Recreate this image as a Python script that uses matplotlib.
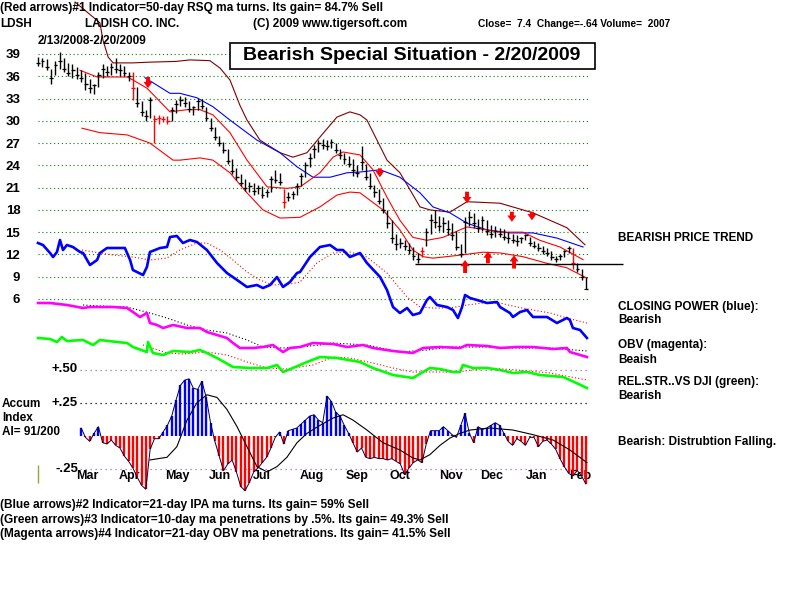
"""
TigerSoft style chart for LDSH (Ladish Co.), 2/13/2008 - 2/20/2009.
Price bars with bands, Closing Power, OBV, relative strength and the
Accumulation Index histogram underneath.
"""

import matplotlib.pyplot as plt
import numpy as np

FONT = "Liberation Sans"

# ---- price bars, one every 2nd trading day (day index 0 = 2/13/2008) ----
bar_days = np.arange(0, 256, 2)
bar_high = [38.6, 38.4, 38.3, 37.0, 38.0, 39.3, 38.5, 37.8, 37.6, 37.2,
            36.8, 36.4, 35.6, 35.0, 36.6, 37.6, 37.4, 37.8, 38.4, 37.6,
            37.4, 36.6, 36.6, 34.6, 32.6, 31.4, 33.2, 30.8, 30.8, 30.6,
            30.6, 31.8, 32.8, 33.4, 33.2, 32.6, 32.0, 33.0, 33.0, 31.8,
            30.4, 29.2, 28.0, 27.2, 26.2, 24.8, 23.6, 22.8, 22.2, 21.8,
            21.6, 21.4, 21.2, 20.8, 22.6, 23.4, 23.0, 20.8, 20.4, 20.6,
            21.6, 23.0, 24.4, 25.6, 26.8, 27.4, 27.6, 27.4, 27.6, 27.0,
            26.2, 25.6, 25.2, 24.8, 24.0, 26.6, 24.2, 23.0, 21.4, 20.8,
            19.6, 18.0, 16.6, 14.8, 14.2, 14.0, 13.6, 13.0, 12.2, 13.0,
            15.6, 17.4, 18.0, 17.2, 17.0, 16.6, 16.2, 15.2, 13.4, 17.0,
            17.8, 17.6, 16.8, 17.2, 16.6, 16.0, 15.8, 15.6, 15.4, 15.0,
            14.8, 14.6, 14.4, 14.8, 14.4, 13.8, 13.6, 13.2, 12.8, 12.4,
            11.8, 12.0, 12.6, 13.2, 12.8, 10.8, 10.0, 9.0]
bar_low = [37.4, 37.2, 36.8, 35.0, 36.2, 37.0, 36.6, 36.0, 35.8, 35.6,
           35.2, 34.2, 33.8, 33.6, 34.6, 35.8, 36.0, 36.2, 36.4, 36.0,
           36.0, 35.4, 32.8, 31.8, 30.6, 30.0, 30.4, 27.0, 29.6, 29.8,
           29.6, 30.0, 31.0, 32.0, 31.8, 31.2, 30.8, 31.4, 31.6, 30.0,
           28.6, 27.4, 26.6, 25.6, 24.2, 22.8, 22.0, 21.2, 20.6, 20.4,
           20.0, 20.2, 19.6, 19.8, 20.4, 21.6, 21.4, 18.2, 19.2, 19.4,
           20.0, 21.2, 22.4, 23.8, 25.0, 25.8, 26.2, 26.0, 26.4, 25.6,
           24.8, 24.2, 23.8, 22.6, 22.4, 23.4, 22.0, 20.8, 19.8, 18.8,
           17.6, 15.6, 13.6, 12.6, 12.8, 12.6, 12.0, 11.2, 10.8, 11.6,
           13.2, 14.8, 15.6, 15.2, 15.0, 14.6, 14.0, 12.6, 11.6, 12.2,
           15.8, 15.6, 15.0, 15.2, 14.6, 14.2, 14.4, 14.4, 14.0, 13.6,
           13.6, 13.2, 13.6, 14.0, 13.2, 12.8, 12.4, 12.0, 11.8, 11.2,
           11.0, 11.2, 11.6, 12.2, 10.0, 9.6, 8.6, 7.4]
bar_close = [37.8, 38.0, 37.2, 35.8, 37.5, 38.0, 37.0, 36.5, 36.8, 36.2,
             35.8, 35.0, 34.4, 34.8, 36.2, 37.0, 36.6, 37.2, 37.0, 36.8,
             36.4, 36.0, 34.4, 32.4, 31.2, 30.6, 32.8, 30.2, 30.4, 30.2,
             30.0, 31.4, 32.2, 32.8, 32.4, 31.6, 31.8, 32.6, 32.0, 30.4,
             29.0, 27.8, 27.0, 26.0, 24.6, 23.2, 22.4, 21.6, 21.0, 21.2,
             20.6, 21.0, 20.0, 20.4, 22.2, 22.0, 21.8, 19.0, 19.8, 20.2,
             21.2, 22.6, 24.0, 25.0, 26.2, 27.0, 26.8, 26.6, 27.2, 26.0,
             25.4, 24.8, 24.2, 23.4, 23.0, 24.4, 22.4, 21.2, 20.4, 19.2,
             18.0, 16.2, 14.2, 13.4, 13.6, 13.2, 12.6, 11.8, 11.4, 12.4,
             15.0, 16.6, 16.4, 15.8, 16.2, 15.4, 14.6, 13.0, 12.0, 16.4,
             17.0, 16.2, 15.6, 16.6, 15.2, 14.8, 15.2, 14.8, 14.4, 14.2,
             14.0, 13.8, 14.2, 14.6, 13.6, 13.2, 12.8, 12.4, 12.2, 11.6,
             11.4, 11.8, 12.4, 12.8, 10.8, 10.0, 9.0, 7.4]
red_bars = [22, 27, 28, 29, 30, 57, 89, 124]

# ---- bands around price: (day, price) ----
upper_brown_days = [17.2, 28.7, 30.1, 32.5, 34.8, 44, 52, 64, 70.5, 79.7, 84.4,
                    89, 93.6, 96.9, 102.9, 112.2, 118.2, 124.7, 130.7, 138.6,
                    144.6, 149.3, 152.5, 161.8, 167.8, 172.5, 177.1, 181.7,
                    191, 198.9, 214.2, 229.5, 245.2, 253.6]
upper_brown = [46.0, 43.2, 40.9, 38.6, 37.8, 37.8, 37.9, 38.0, 38.2, 38.1, 37.1,
               35.5, 32.1, 30.1, 27.4, 25.7, 25.1, 25.7, 27.8, 30.5,
               31.2, 30.8, 30.1, 24.7, 23.0, 20.7, 18.4, 18.0,
               17.7, 19.1, 18.9, 17.6, 15.6, 13.3]
upper_red_days = [19.5, 27.4, 41.3, 44, 50.5, 61.2, 69.1, 75.1, 81.1, 89, 96.9,
                  106.2, 115.4, 121.5, 130.7, 136.8, 141.4, 149.3, 155.3, 161.8,
                  167.8, 173.8, 180.3, 187.8, 195.6, 198.9, 208.2, 214.2, 224.8,
                  232.7, 242, 252.7]
upper_red = [36.8, 35.9, 35.9, 35.5, 34.4, 31.2, 31.5, 31.5, 30.8, 28.4, 24.7,
             21.1, 20.9, 21.1, 23.0, 25.1, 25.8, 25.4, 23.4, 19.7,
             16.6, 14.3, 13.9, 14.3, 15.3, 15.7, 15.3, 15.0, 15.0,
             13.9, 13.0, 11.3]
lower_red_days = [20.4, 28.7, 41.3, 51.9, 62.6, 65.8, 75.1, 81.1, 89, 96.9,
                  104.3, 112.2, 121.5, 130.7, 138.6, 144.6, 149.3, 159.9, 167.8,
                  173.8, 178.5, 183.1, 195.6, 206.3, 214.2, 224.8, 236, 245.2,
                  254.5]
lower_red = [29.0, 28.4, 28.1, 27.0, 24.7, 24.7, 25.0, 24.7, 23.0, 20.3,
             18.0, 16.9, 17.0, 18.4, 20.0, 20.4, 20.3, 18.0, 15.3,
             12.6, 11.7, 11.5, 11.9, 12.3, 12.2, 11.7, 10.8, 10.2,
             8.8]
blue_ma_days = [49.6, 61.2, 65.8, 73.7, 81.1, 89, 101.5, 112.2, 120.1, 127.5,
                135.4, 143.3, 149.3, 158.6, 167.8, 177.1, 183.1, 191, 198.9,
                208.2, 218.8, 229.5, 240.6, 252.7]
blue_ma = [35.8, 33.7, 33.7, 33.1, 31.9, 30.1, 27.4, 25.7, 23.8, 22.4,
           22.4, 23.0, 23.1, 23.4, 22.4, 20.3, 18.4, 17.6, 16.2,
           15.3, 14.9, 14.9, 14.2, 13.0]

# ---- signal arrows: (day, tail price, tip price) ----
sell_days = [51, 158.5, 198.9, 219.7, 229]
sell_tail = [35.9, 23.6, 20.45, 17.75, 17.75]
sell_tip = [34.4, 22.4, 18.9, 16.4, 16.6]
buy_days = [198, 208.6, 220.7]
buy_tail = [9.5, 10.8, 10.1]
buy_tip = [11.25, 12.4, 11.9]
support_level = 10.7
support_days = (174.8, 271.0)

# ---- Closing Power (blue) and its moving average ----
cp_days = [0, 2.3, 5.6, 7, 8.8, 10.2, 11.6, 13.4, 16.2, 19.5, 20.9, 24.1, 27.4,
           28.7, 32, 34.8, 38, 40.3, 42.7, 44, 48.7, 50.5, 51.9, 56.6, 59.8,
           61.2, 64.4, 67.2, 70.5, 73.7, 78.3, 83, 87.6, 92.3, 96.9, 101.5,
           104.3, 107.6, 110.8, 113.6, 116.8, 120.1, 121.5, 126.1, 130.7,
           135.4, 138.6, 141.4, 144.6, 149.3, 152.5, 158.6, 161.8, 164.6,
           167.8, 171.1, 173.8, 177.1, 180.3, 181.7, 185, 189.6, 192.4, 194.7,
           196.6, 198, 200.3, 203.5, 208.2, 212.8, 214.2, 218.8, 220.2, 223.5,
           226.7, 229.5, 236, 240.6, 245.2, 246.6, 248, 251.3, 254.5]
cp = [57, 55, 47, 43, 48, 60, 50, 55, 53, 48, 47, 35, 40,
      47, 52, 52, 52, 52, 40, 30, 25, 33, 48, 52, 53,
      63, 64, 57, 60, 58, 50, 37, 27, 20, 13, 15,
      12, 15, 23, 13, 18, 27, 28, 43, 53,
      55, 50, 50, 43, 47, 37, 23, 10, -7,
      -13, -8, -15, -13, 0, 3, -5, -7, -10, -18,
      -7, 5, 2, 0, -3, -2, -7, -13, -17, -12,
      -10, -17, -17, -23, -18, -20, -28, -30, -38]
cp_ma_days = [20.4, 28.7, 34.8, 44, 51.9, 59.8, 65.8, 73.7, 78.3, 84.4, 90.4,
              96.9, 102.9, 108.9, 116.8, 121.5, 129.3, 136.8, 144.6, 152.5,
              161.8, 171.1, 177.1, 183.1, 191, 198.9, 206.3, 214.2, 222.1,
              229.5, 237.4, 245.2, 254.5]
cp_ma = [50, 47, 45, 43, 40, 42, 50, 57, 57, 50, 40,
         28, 20, 15, 16, 18, 37, 47, 48, 43,
         27, 3, -7, -8, -8, -5, -3, -3, -7,
         -10, -13, -18, -23]

# ---- OBV (magenta) and its moving average ----
obv_days = [0, 5.6, 13.4, 20.9, 24.1, 28.7, 34.8, 41.3, 44, 47.3, 50.5, 51.9,
            55.2, 58, 62.6, 69.1, 75.1, 78.3, 83, 87.6, 90.4, 93.6, 99.7, 104.3,
            108.9, 113.6, 116.8, 121.5, 127.5, 136.8, 143.3, 150.7, 155.3,
            164.6, 173.8, 178.5, 186.4, 195.6, 198.9, 208.2, 214.2, 222.1,
            229.5, 238.8, 245.2, 246.6, 254.5]
obv = [57, 57, 55, 52, 53, 53, 53, 52, 48, 43, 47, 37,
       35, 32, 35, 32, 32, 28, 25, 22, 17, 12, 12, 13,
       15, 8, 12, 13, 17, 16, 13, 15, 12,
       9, 7, 12, 13, 12, 15, 14, 12, 13,
       13, 11, 12, 8, 3]
obv_ma_days = [20.9, 28.7, 41.3, 51.9, 59.8, 69.1, 78.3, 87.6, 96.9, 104.3,
               113.6, 121.5, 130.7, 136.8, 152.5, 167.8, 180.3, 191, 206.3,
               222.1, 237.4, 254.5]
obv_ma = [55, 54, 53, 47, 42, 35, 30, 27, 20, 13,
          12, 13, 15, 17, 15, 8, 10, 13, 13,
          12, 12, 9]

# ---- relative strength vs DJI (green) and its moving average ----
rs_days = [0, 5.6, 8.8, 11.1, 13.4, 20.9, 25.5, 28.7, 36.6, 41.3, 44, 50.5, 51,
           53.3, 58, 62.6, 70.5, 75.1, 78.3, 83, 90.4, 98.3, 106.2, 110.8,
           113.6, 118.2, 124.7, 130.7, 138.6, 149.3, 155.3, 164.6, 173.8,
           178.5, 181.7, 186.4, 192.4, 195.6, 197, 201.7, 208.2, 214.2, 220.2,
           226.7, 232.7, 243.4, 246.6, 254.5]
rs = [62, 61, 58, 63, 59, 60, 55, 60, 58, 57, 53, 48, 58,
      47, 45, 49, 48, 50, 47, 42, 33, 32, 32, 35,
      28, 32, 38, 43, 42, 38, 32, 25, 22,
      28, 32, 31, 28, 28, 35, 32, 32, 30, 27,
      28, 25, 23, 20, 12]
rs_ma_days = [48.7, 59.8, 67.2, 78.3, 87.6, 96.9, 106.2, 115.4, 127.5, 136.8,
              144.6, 155.3, 164.6, 173.8, 183.1, 194.2, 208.2, 222.1, 237.4,
              254.5]
rs_ma = [55, 47, 46, 48, 45, 38, 32, 31, 35, 43,
         42, 37, 32, 28, 28, 28, 32, 30, 27,
         20]

# ---- Accumulation Index histogram (every 2nd day from day 20) ----
ai_days = np.arange(20, 256, 2)
ai = [0.06, -0.01, -0.04, 0.02, 0.07, -0.05, -0.06, -0.03, -0.07, -0.09,
      -0.15, -0.19, -0.24, -0.31, -0.37, -0.40, -0.10, -0.02, -0.02, 0.03,
      0.08, 0.15, 0.27, 0.38, 0.42, 0.43, 0.36, 0.35, 0.41, 0.29,
      0.10, -0.04, -0.15, -0.26, -0.21, -0.18, -0.27, -0.38, -0.41, -0.35,
      -0.27, -0.24, -0.20, -0.16, -0.09, -0.01, 0.03, -0.06, 0.04, 0.05,
      0.06, 0.09, 0.12, 0.15, 0.16, 0.12, 0.10, 0.30, 0.26, 0.18,
      0.15, 0.08, 0.02, -0.05, -0.12, -0.09, -0.16, -0.17, -0.16, -0.17,
      -0.17, -0.18, -0.17, -0.19, -0.21, -0.29, -0.24, -0.20, -0.18, -0.20,
      -0.06, 0.04, 0.04, 0.04, 0.07, 0.04, 0.01, -0.01, 0.08, 0.17,
      0.02, -0.05, 0.07, 0.05, 0.06, 0.08, 0.10, 0.08, 0.02, -0.04,
      -0.07, -0.02, -0.04, -0.07, -0.01, -0.01, -0.08, -0.04, -0.03, -0.06,
      -0.10, -0.17, -0.23, -0.28, -0.30, -0.26, -0.30, -0.36]
ai_ma_days = [51.9, 59.8, 64.4, 69.1, 73.7, 78.3, 83, 87.6, 92.3, 96.9, 101.5,
              106.2, 110.8, 115.4, 120.1, 124.7, 130.7, 136.8, 141.4, 146,
              152.5, 159.9, 167.8, 173.8, 177.1, 181.7, 186.4, 191, 195.6,
              200.3, 209.5, 220.2, 229.5, 238.8, 246.6, 254.5]
ai_ma = [-0.18, -0.16, -0.08, 0.12, 0.25, 0.31, 0.29, 0.20, 0.07, -0.08, -0.23,
         -0.27, -0.23, -0.16, -0.05, 0.02, 0.08, 0.135, 0.16, 0.12,
         0.045, -0.05, -0.105, -0.165, -0.18, -0.14, -0.07, -0.015, 0.02,
         0.045, 0.06, 0.045, 0.01, -0.03, -0.105, -0.20]

price_ticks = [39, 36, 33, 30, 27, 24, 21, 18, 15, 12, 9, 6]
month_labels = ["Mar", "Apr", "May", "Jun", "Jul", "Aug", "Sep", "Oct", "Nov",
                "Dec", "Jan", "Feb"]
month_days = [22.7, 42.2, 64.4, 84.4, 103.8, 127, 147.9, 167.8, 191.5, 210.5,
              231.3, 251.3]


def px(x: float, y: float) -> tuple[float, float]:
    """Figure pixel (from top left) to figure fraction."""
    return x / 800, 1 - y / 600


def bold_text(fig, x, y, s, size=8.5, **kw) -> None:
    fx, fy = px(x, y)
    fig.text(fx, fy, s, fontsize=size, fontweight="bold", family=FONT,
             va="center", ha=kw.pop("ha", "left"), **kw)


def blank(ax) -> None:
    ax.set_frame_on(False)
    ax.patch.set_visible(False)
    ax.tick_params(left=False, right=False, bottom=False, top=False,
                   labelleft=False, labelright=False, labelbottom=False)


fig = plt.figure(figsize=(8, 6), dpi=100)
fig.patch.set_facecolor("white")

x_lim = (-3.7, 279.1)

# price panel spans figure pixels y 0..390
ax = fig.add_axes([30 / 800, 1 - 390 / 600, 610 / 800, 390 / 600])
blank(ax)
ax.set_xlim(*x_lim)
ax.set_ylim(-6.26, 46.27)
ax.set_yticks(price_ticks)
ax.tick_params(labelleft=True, length=0, pad=7)
for lbl in ax.get_yticklabels():
    lbl.set_fontsize(9.5)
    lbl.set_fontweight("bold")
    lbl.set_family(FONT)

ax.hlines(price_ticks, 0, 256, colors="#008000", linestyles=(0, (1, 2.5)),
          linewidth=0.8)

# bands
ax.plot(upper_brown_days, upper_brown, color="#800000", lw=0.8, clip_on=False)
ax.plot(blue_ma_days, blue_ma, color="#0000ff", lw=0.8)
ax.plot(upper_red_days, upper_red, color="#ff0000", lw=0.8)
ax.plot(lower_red_days, lower_red, color="#ff0000", lw=0.8)

# bars
bar_colors = ["#ff0000" if i in red_bars else "black" for i in range(len(bar_days))]
ax.vlines(bar_days, bar_low, bar_high, colors=bar_colors, lw=1.0)
ax.hlines(bar_close, bar_days, bar_days + 1.0, colors=bar_colors, lw=1.0)
ax.hlines(bar_close, bar_days - 0.8, bar_days, colors=bar_colors, lw=0.8)

ax.hlines(support_level, *support_days, colors="black", lw=1.0, clip_on=False)

arrow_style = "simple,head_length=0.45,head_width=0.65,tail_width=0.28"
for d, t0, t1 in zip(sell_days + buy_days, sell_tail + buy_tail, sell_tip + buy_tip):
    ax.annotate("", xy=(d, t1), xytext=(d, t0),
                arrowprops=dict(arrowstyle=arrow_style, color="#ff0000",
                                lw=0, shrinkA=0, shrinkB=0))

# Closing Power, OBV and relative strength each on their own scale
ax_cp = ax.twinx()
blank(ax_cp)
ax_cp.set_ylim(-90, 300)
ax_cp.plot(cp_ma_days, cp_ma, color="#ff0000", lw=0.8, ls=(0, (1, 2)))
ax_cp.plot(cp_days, cp, color="#0000ff", lw=1.9)

ax_obv = ax.twinx()
blank(ax_obv)
ax_obv.set_ylim(-30, 360)
ax_obv.plot(obv_ma_days, obv_ma, color="black", lw=0.8, ls=(0, (1, 2)))
ax_obv.plot(obv_days, obv, color="#ff00ff", lw=1.9)

ax_rs = ax.twinx()
blank(ax_rs)
ax_rs.set_ylim(10, 400)
ax_rs.plot(rs_ma_days, rs_ma, color="#ff0000", lw=0.8, ls=(0, (1, 2)))
ax_rs.plot(rs_days, rs, color="#00ff00", lw=1.9)

# Accumulation Index panel spans figure pixels y 355..500
ax_ai = fig.add_axes([30 / 800, 1 - 500 / 600, 610 / 800, 145 / 600], sharex=ax)
blank(ax_ai)
ax_ai.set_ylim(-0.481, 0.609)
ax_ai.set_xlim(*x_lim)

ax_ai.hlines(0.5, 19.5, 256, colors="#a070a0", linestyles=(0, (1, 3)), lw=0.9)
ax_ai.hlines(0.25, 19.5, 256, colors="black", linestyles=(0, (1, 3)), lw=0.9)
ax_ai.hlines(-0.25, 19.5, 256, colors="#a070a0", linestyles=(0, (1, 3)), lw=0.9)
for lvl, lbl in zip([0.5, 0.25, -0.25], ["+.50", "+.25", "-.25"]):
    ax_ai.text(18.5, lvl, lbl, ha="right", va="center", fontsize=9.5,
               fontweight="bold", family=FONT)

for d, m in zip(month_days, month_labels):
    ax_ai.text(d, -0.30, m, ha="center", va="center", fontsize=9,
               fontweight="bold", family=FONT, zorder=1)

ai_vals = np.array(ai)
ai_colors = np.where(ai_vals >= 0, "#0000ff", "#ff0000")
ax_ai.vlines(ai_days, 0, ai_vals, colors=ai_colors, lw=1.7, zorder=2)
ax_ai.plot(ai_days, ai_vals, color="#000040", lw=0.7, zorder=3)
ax_ai.plot(ai_ma_days, ai_ma, color="black", lw=0.8, zorder=3)
ax_ai.vlines(-0.2, -0.22, -0.35, colors="#a0a040", lw=1.0, clip_on=False)

# header and title
bold_text(fig, 0, 8, "(Red arrows)#1 Indicator=50-day RSQ ma turns. Its gain= 84.7% Sell", size=8.6)
bold_text(fig, 0, 24, "LDSH")
bold_text(fig, 85, 24, "LADISH CO. INC.")
bold_text(fig, 253, 24, "(C) 2009 www.tigersoft.com")
bold_text(fig, 478, 24, "Close=  7.4  Change=-.64 Volume=  2007", size=7.3)
bold_text(fig, 38, 41, "2/13/2008-2/20/2009")

fx0, fy0 = px(230, 69)
fig.patches.append(plt.Rectangle((fx0, fy0), 365 / 800, 26 / 600,
                                 transform=fig.transFigure, fill=True,
                                 facecolor="white", edgecolor="black", lw=1.2))
bold_text(fig, 412, 56, "Bearish Special Situation - 2/20/2009", size=14,
          ha="center")

# right-hand notes
bold_text(fig, 618, 238, "BEARISH PRICE TREND")
bold_text(fig, 618, 307, "CLOSING POWER (blue):")
bold_text(fig, 618, 320, "Bearish")
bold_text(fig, 618, 345, "OBV (magenta):")
bold_text(fig, 618, 360, "Beaish")
bold_text(fig, 618, 382, "REL.STR..VS DJI (green):")
bold_text(fig, 618, 396, "Bearish")
bold_text(fig, 618, 442, "Bearish: Distrubtion Falling.")

bold_text(fig, 2, 404, "Accum")
bold_text(fig, 2, 418, "Index")
bold_text(fig, 2, 432, "AI= 91/200")

bold_text(fig, 0, 505, "(Blue arrows)#2 Indicator=21-day IPA ma turns. Its gain= 59% Sell", size=8.6)
bold_text(fig, 0, 520, "(Green arrows)#3 Indicator=10-day ma penetrations by .5%. Its gain= 49.3% Sell", size=8.6)
bold_text(fig, 0, 534, "(Magenta arrows)#4 Indicator=21-day OBV ma penetrations. Its gain= 41.5% Sell", size=8.6)

fig.savefig("out.png", dpi=100)
